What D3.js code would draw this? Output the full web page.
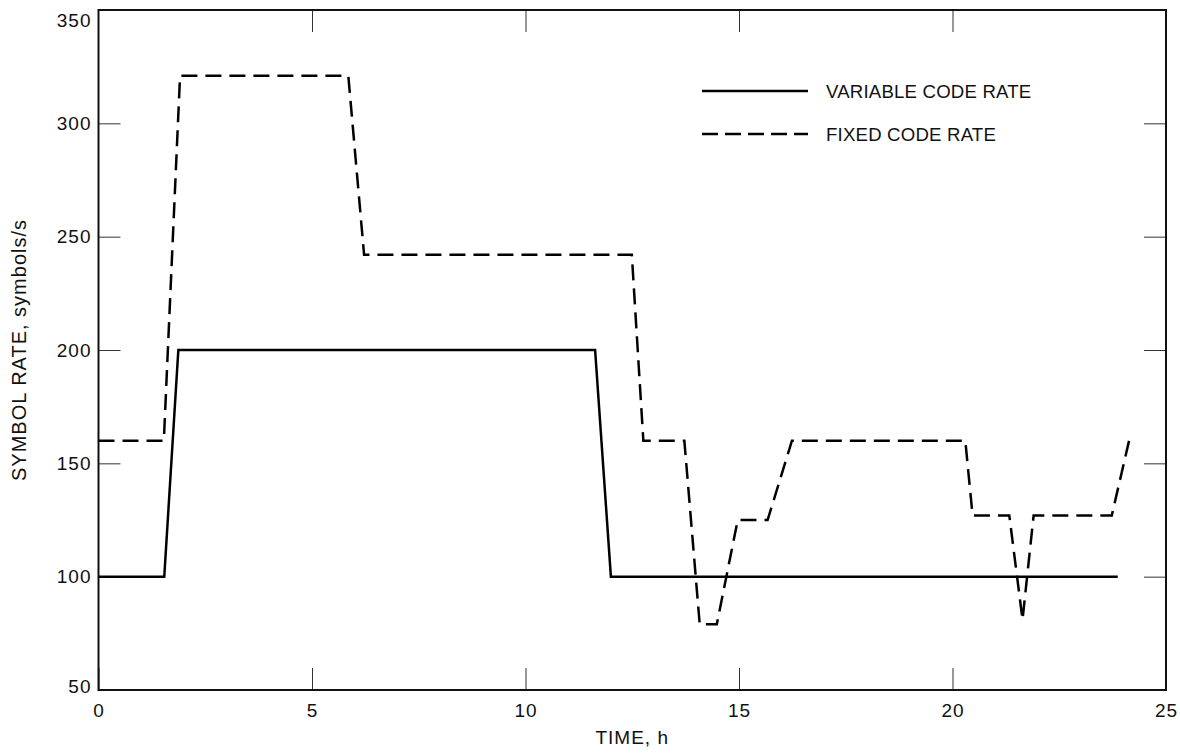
<!DOCTYPE html>
<html>
<head>
<meta charset="utf-8">
<script src="https://cdn.jsdelivr.net/npm/d3@7"></script>
<style>
  html, body { margin: 0; padding: 0; background: #fff; }
  svg { display: block; }
  text { font-family: "Liberation Sans", Arial, Helvetica, sans-serif; fill: #111; }
</style>
</head>
<body>
<svg id="chart" width="1180" height="754"></svg>
<script>
// Symbol rate over a day, variable vs fixed code rate
const timeVariable = [0, 1.54, 1.87, 11.63, 12.0, 23.87];
const rateVariable = [100, 100, 200, 200, 100, 100];

const timeFixed = [0, 1.53, 1.91, 5.85, 6.22, 12.49, 12.76, 13.72, 14.08, 14.48, 14.97, 15.67, 16.24, 20.3, 20.47, 21.33, 21.64, 21.9, 23.73, 24.16];
const rateFixed = [160, 160, 321, 321, 242, 242, 160, 160, 79, 79, 125, 125, 160, 160, 127, 127, 81, 127, 127, 162];

const xTicks = [0, 5, 10, 15, 20, 25];
const yTicks = [50, 100, 150, 200, 250, 300, 350];

const legendItems = ['VARIABLE CODE RATE', 'FIXED CODE RATE'];

(function(){
  const svg = d3.select('#chart');
  const m = { left: 98.5, right: 1166, top: 10, bottom: 690 };
  const tickLen = 22;

  const x = d3.scaleLinear().domain([0, 25]).range([m.left, m.right]);
  const y = d3.scaleLinear().domain([50, 350]).range([m.bottom, m.top]);

  const variable = timeVariable.map((t, i) => ({ t, v: rateVariable[i] }));
  const fixed = timeFixed.map((t, i) => ({ t, v: rateFixed[i] }));

  const tickFont = 'font-size:19px;letter-spacing:1px';
  const legendFont = 'font-size:18.6px;letter-spacing:0.2px';
  const titleFont = 'font-size:19px;letter-spacing:1px';
  const yTitleFont = 'font-size:20px;letter-spacing:1px';

  // axes with inward ticks, on all four sides
  const styleAxis = g => {
    g.select('.domain').remove();
    g.selectAll('.tick line').attr('stroke', '#333').attr('stroke-width', 1);
  };

  svg.append('g')
    .attr('transform', `translate(0,${m.bottom})`)
    .call(d3.axisBottom(x).tickValues(xTicks).tickSizeInner(-tickLen).tickSizeOuter(0).tickPadding(8).tickFormat(d3.format('d')))
    .call(styleAxis)
    .call(g => g.selectAll('.tick text').attr('style', tickFont).attr('font-family', null).attr('font-size', null).attr('fill', '#111').attr('dy', '1.0em'));

  svg.append('g')
    .attr('transform', `translate(0,${m.top})`)
    .call(d3.axisTop(x).tickValues(xTicks.slice(1, -1)).tickSizeInner(-tickLen).tickSizeOuter(0).tickFormat(''))
    .call(styleAxis);

  svg.append('g')
    .attr('transform', `translate(${m.left},0)`)
    .call(d3.axisLeft(y).tickValues(yTicks).tickSizeInner(-tickLen).tickSizeOuter(0).tickPadding(7).tickFormat(d3.format('d')))
    .call(styleAxis)
    .call(g => g.selectAll('.tick text').attr('style', tickFont).attr('font-family', null).attr('font-size', null).attr('fill', '#111')
      .attr('y', d => d === 350 ? 10 : (d === 50 ? -4 : 0)));

  svg.append('g')
    .attr('transform', `translate(${m.right},0)`)
    .call(d3.axisRight(y).tickValues(yTicks.slice(1, -1)).tickSizeInner(-tickLen).tickSizeOuter(0).tickFormat(''))
    .call(styleAxis);

  // frame
  svg.append('rect')
    .attr('x', m.left).attr('y', m.top)
    .attr('width', m.right - m.left).attr('height', m.bottom - m.top)
    .attr('fill', 'none').attr('stroke', '#111').attr('stroke-width', 2);

  const line = d3.line().x(d => x(d.t)).y(d => y(d.v));

  svg.append('path').datum(variable)
    .attr('d', line).attr('fill', 'none')
    .attr('stroke', '#000').attr('stroke-width', 2.5).attr('stroke-linejoin', 'miter');

  svg.append('path').datum(fixed)
    .attr('d', line).attr('fill', 'none')
    .attr('stroke', '#000').attr('stroke-width', 2.5)
    .attr('stroke-dasharray', '16,8');

  // legend
  const lg = svg.append('g');
  legendItems.forEach((label, i) => {
    const ly = 91 + i * 43;
    lg.append('line')
      .attr('x1', 702).attr('x2', 808).attr('y1', ly).attr('y2', ly)
      .attr('stroke', '#000').attr('stroke-width', 2.5)
      .attr('stroke-dasharray', i === 1 ? '16,7' : null);
    lg.append('text')
      .attr('x', 826).attr('y', ly + 6.5)
      .attr('style', legendFont)
      .text(label);
  });

  // axis titles
  svg.append('text')
    .attr('x', (m.left + m.right) / 2).attr('y', 744)
    .attr('text-anchor', 'middle')
    .attr('style', titleFont)
    .text('TIME, h');

  svg.append('text')
    .attr('transform', `translate(26,${(m.top + m.bottom) / 2}) rotate(-90)`)
    .attr('text-anchor', 'middle')
    .attr('style', yTitleFont)
    .text('SYMBOL RATE, symbols/s');
})();
</script>
</body>
</html>
